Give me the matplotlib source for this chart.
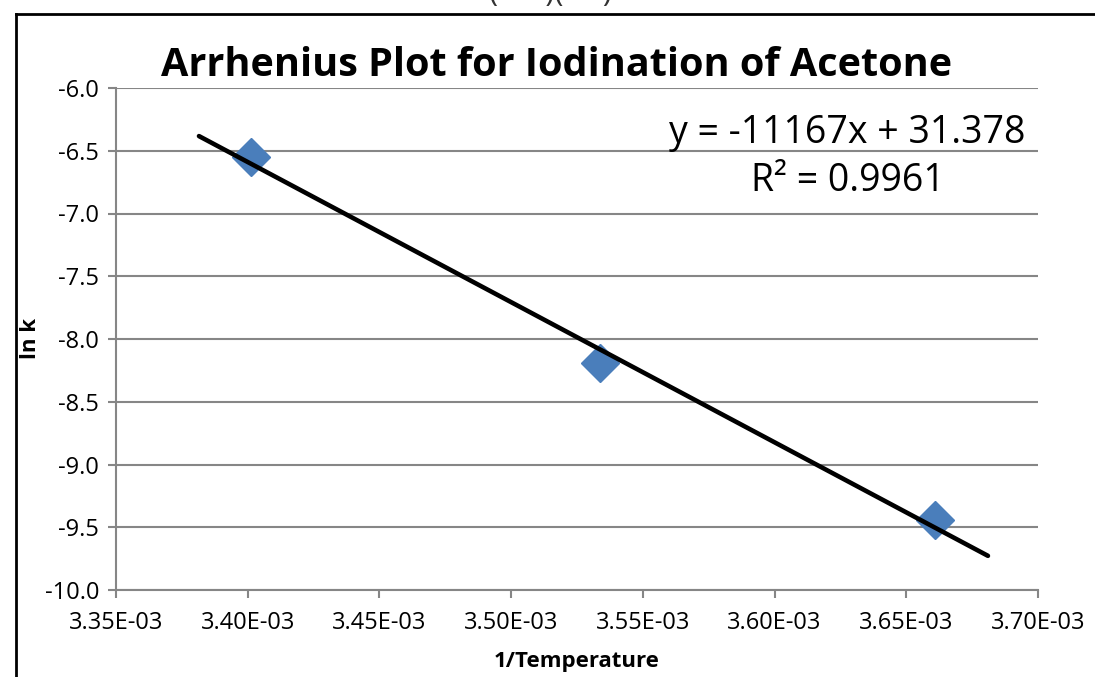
import numpy as np
import matplotlib
matplotlib.use("Agg")
import matplotlib.pyplot as plt
from matplotlib.lines import Line2D

inv_T = [3.4014e-3, 3.5336e-3, 3.6610e-3]
ln_k = [-6.55, -8.19, -9.44]
x_ticks = [3.35e-3, 3.40e-3, 3.45e-3, 3.50e-3, 3.55e-3, 3.60e-3, 3.65e-3, 3.70e-3]
y_ticks = [-6.0, -6.5, -7.0, -7.5, -8.0, -8.5, -9.0, -9.5, -10.0]
trend_range = [3.3815e-3, 3.6810e-3]
slope, intercept = -11167, 31.378
r2 = 0.9961

plt.rcParams['font.family'] = ['Open Sans', 'DejaVu Sans']

fig = plt.figure(figsize=(10.95, 6.77), dpi=100)
ax = fig.add_axes([116/1095, 1-590/677, (1038-116)/1095, (590-88)/677])

grid_c = '#868686'
for yv in y_ticks:
    ax.axhline(yv, color=grid_c, lw=1.5, zorder=1)

ax.plot(inv_T, ln_k, linestyle='none', marker='D', markersize=19.5,
        color='#4a7ebb', zorder=3)
tx = np.array(trend_range)
ax.plot(tx, slope*tx + intercept, color='black', lw=3.3,
        solid_capstyle='round', zorder=4)

ax.set_xlim(x_ticks[0], x_ticks[-1])
ax.set_ylim(-10.0, -6.0)
ax.set_xticks(x_ticks)
ax.set_xticklabels([f"{v*1e3:.2f}E-03" for v in x_ticks])
ax.set_yticks(y_ticks)
ax.set_yticklabels([f"{v:.1f}" for v in y_ticks])
for s in ['top', 'right']:
    ax.spines[s].set_visible(False)
for s in ['left', 'bottom']:
    ax.spines[s].set_color(grid_c)
    ax.spines[s].set_linewidth(1.5)
ax.tick_params(axis='both', direction='out', length=6, width=1.5,
               color=grid_c, labelsize=17, pad=6, labelcolor='black')
ax.tick_params(axis='x', pad=9)
ax.set_facecolor('none')

fig.text(557/1095, 1-66/677, 'Arrhenius Plot for Iodination of Acetone',
         ha='center', va='center', fontsize=28.5, fontweight='bold')
fig.text(847/1095, 1-133/677, f'y = {slope}x + {intercept}',
         ha='center', va='center', fontsize=27)
fig.text(848/1095, 1-181/677, f'R² = {r2}',
         ha='center', va='center', fontsize=27)
fig.text(577/1095, 1-662/677, '1/Temperature', ha='center', va='center',
         fontsize=16, fontweight='bold')
fig.text(30/1095, 1-338/677, 'ln k', ha='center', va='center',
         fontsize=16, fontweight='bold', rotation=90)
fig.text(550/1095, 1+7/677, '(      )(     )', ha='center', va='center',
         fontsize=22, color='#333333')

fig.add_artist(Line2D([16/1095, 1.0], [1-14/677, 1-14/677], color='black', lw=2,
                      transform=fig.transFigure))
fig.add_artist(Line2D([16/1095, 16/1095], [0, 1-14/677], color='black', lw=2,
                      transform=fig.transFigure))

fig.savefig('out.png', dpi=100)
